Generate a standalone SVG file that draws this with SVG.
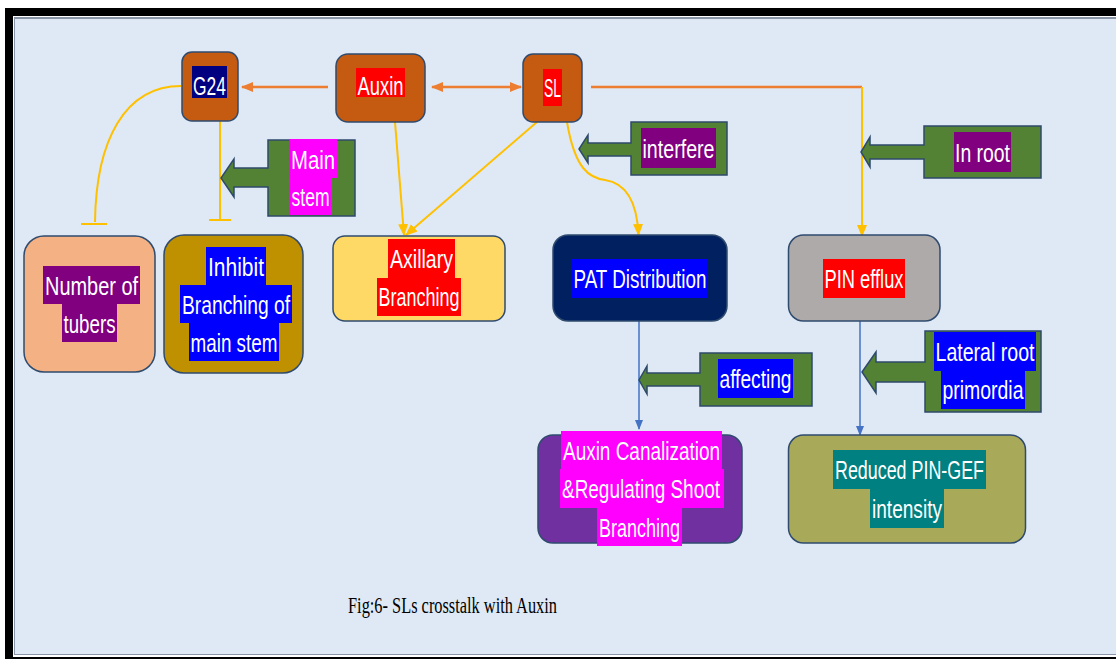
<svg xmlns="http://www.w3.org/2000/svg" width="1116" height="659" viewBox="0 0 1116 659">
<defs>
<style>
.node{stroke:#2f4b6e;stroke-width:1.5}
.call{fill:#548235;stroke:#2e4a6b;stroke-width:1.5}
.t{font-family:"Liberation Sans",Arial,sans-serif;font-size:26px;fill:#fff;text-anchor:middle}
.or{fill:none;stroke:#ed7d31;stroke-width:2.5}
.ye{fill:none;stroke:#ffc000;stroke-width:2}
.bl{fill:none;stroke:#4472c4;stroke-width:1.5}
</style>
<marker id="ao" markerUnits="userSpaceOnUse" markerWidth="12" markerHeight="12" viewBox="0 0 12 12" refX="11" refY="6" orient="auto-start-reverse"><path d="M0,1 L12,6 L0,11 Z" fill="#ed7d31"/></marker>
<marker id="ay" markerUnits="userSpaceOnUse" markerWidth="12" markerHeight="12" viewBox="0 0 12 12" refX="11" refY="6" orient="auto"><path d="M0,1 L12,6 L0,11 Z" fill="#ffc000"/></marker>
<marker id="ab" markerUnits="userSpaceOnUse" markerWidth="10" markerHeight="10" viewBox="0 0 10 10" refX="9" refY="5" orient="auto"><path d="M0,1 L10,5 L0,9 Z" fill="#4472c4"/></marker>
</defs>
<rect x="0" y="0" width="1116" height="659" fill="#fff"/>
<rect x="5" y="8" width="1111" height="651" fill="#000"/>
<rect x="13" y="16" width="1103" height="641" fill="#fff"/>
<rect x="14" y="17" width="1102" height="638" fill="#8a96a8"/>
<rect x="15" y="19" width="1101" height="635" fill="#dfe9f5"/>

<g id="connectors">
<line class="or" x1="328" y1="87" x2="242" y2="87" marker-end="url(#ao)"/>
<line class="or" x1="432" y1="87" x2="521" y2="87" marker-start="url(#ao)" marker-end="url(#ao)"/>
<polyline class="or" points="591,87 862,87"/>
<line class="ye" x1="862" y1="87" x2="862" y2="236" marker-end="url(#ay)"/>
<path class="ye" d="M181,86 C125,86 96,140 95,222"/>
<line class="ye" x1="81" y1="224" x2="107" y2="224" stroke-width="3"/>
<line class="ye" x1="220" y1="121" x2="220" y2="220"/>
<line class="ye" x1="209" y1="220" x2="231" y2="220" stroke-width="3"/>
<line class="ye" x1="395" y1="122" x2="404" y2="235" marker-end="url(#ay)"/>
<line class="ye" x1="537" y1="122" x2="406" y2="235" marker-end="url(#ay)"/>
<path class="ye" d="M567,122 C575,170 590,178 605,180 C625,183 637,200 638.5,235" marker-end="url(#ay)"/>
<line class="bl" x1="639" y1="321" x2="639" y2="429" marker-end="url(#ab)"/>
<line class="bl" x1="860" y1="321" x2="860" y2="435" marker-end="url(#ab)"/>
</g>

<g id="g24">
<rect class="node" x="182" y="52" width="56" height="69" rx="10" fill="#c55a11"/>
<rect x="192" y="66" width="35" height="32" fill="#000080"/>
<text class="t" x="209.5" y="95" font-size="28" textLength="33" lengthAdjust="spacingAndGlyphs">G24</text>
</g>
<g id="auxin">
<rect class="node" x="336" y="54" width="89" height="68" rx="12" fill="#c55a11"/>
<rect x="356" y="68" width="49" height="29" fill="#ff0000"/>
<text class="t" x="380.5" y="95" font-size="25" textLength="46" lengthAdjust="spacingAndGlyphs">Auxin</text>
</g>
<g id="sl">
<rect class="node" x="523" y="54" width="59" height="68" rx="10" fill="#c55a11"/>
<rect x="543" y="69" width="19" height="37" fill="#ff0000"/>
<text class="t" x="552.5" y="97" font-size="25" textLength="17" lengthAdjust="spacingAndGlyphs">SL</text>
</g>

<g id="main-stem">
<path class="call" d="M355,140 H268 V168 H234 V159 L221,178 L234,197 V187 H268 V216 H355 Z"/>
<rect x="289" y="139" width="48" height="39" fill="#ff00ff"/>
<rect x="290" y="178" width="41" height="37" fill="#ff00ff"/>
<text class="t" x="313" y="169" textLength="44" lengthAdjust="spacingAndGlyphs">Main</text>
<text class="t" x="310.5" y="206" textLength="38" lengthAdjust="spacingAndGlyphs">stem</text>
</g>
<g id="interfere">
<path class="call" d="M727,122 H631 V143 H588 V135 L579,149 L588,163 V156 H631 V175 H727 Z"/>
<rect x="641" y="128" width="75" height="40" fill="#800080"/>
<text class="t" x="678.5" y="158" textLength="72" lengthAdjust="spacingAndGlyphs">interfere</text>
</g>
<g id="in-root">
<path class="call" d="M1041,126 H924 V145 H870 V137 L861,152 L870,167 V159 H924 V178 H1041 Z"/>
<rect x="954" y="132" width="57" height="40" fill="#800080"/>
<text class="t" x="982.5" y="162" textLength="55" lengthAdjust="spacingAndGlyphs">In root</text>
</g>

<g id="tubers">
<rect class="node" x="24" y="236" width="131" height="136" rx="20" fill="#f4b183"/>
<rect x="43" y="266" width="97" height="38" fill="#800080"/>
<rect x="62" y="304" width="55" height="38" fill="#800080"/>
<text class="t" x="91.5" y="295" textLength="93" lengthAdjust="spacingAndGlyphs">Number of</text>
<text class="t" x="89.5" y="333" textLength="52" lengthAdjust="spacingAndGlyphs">tubers</text>
</g>
<g id="inhibit">
<rect class="node" x="164" y="235" width="139" height="138" rx="20" fill="#bf9000"/>
<rect x="206" y="247" width="60" height="38" fill="#0000ff"/>
<rect x="180" y="285" width="112" height="38" fill="#0000ff"/>
<rect x="189" y="323" width="90" height="38" fill="#0000ff"/>
<text class="t" x="236" y="276" textLength="56" lengthAdjust="spacingAndGlyphs">Inhibit</text>
<text class="t" x="236" y="314" textLength="108" lengthAdjust="spacingAndGlyphs">Branching of</text>
<text class="t" x="234" y="352" textLength="87" lengthAdjust="spacingAndGlyphs">main stem</text>
</g>
<g id="axillary">
<rect class="node" x="333" y="236" width="172" height="85" rx="12" fill="#ffd966"/>
<rect x="388" y="239" width="67" height="39" fill="#ff0000"/>
<rect x="377" y="278" width="84" height="38" fill="#ff0000"/>
<text class="t" x="421.5" y="268" textLength="63" lengthAdjust="spacingAndGlyphs">Axillary</text>
<text class="t" x="419" y="306" textLength="81" lengthAdjust="spacingAndGlyphs">Branching</text>
</g>
<g id="pat">
<rect class="node" x="553" y="235" width="174" height="86" rx="15" fill="#002060"/>
<rect x="572" y="259" width="136" height="39" fill="#0000ff"/>
<text class="t" x="640" y="288" textLength="133" lengthAdjust="spacingAndGlyphs">PAT Distribution</text>
</g>
<g id="pin">
<rect class="node" x="788.5" y="235" width="151.5" height="86" rx="15" fill="#aeaaaa"/>
<rect x="823" y="259" width="82" height="39" fill="#ff0000"/>
<text class="t" x="864" y="288" textLength="79" lengthAdjust="spacingAndGlyphs">PIN efflux</text>
</g>
<g id="affecting">
<path class="call" d="M812,353 H700 V373 H647 V366 L639,380 L647,394 V386 H700 V406 H812 Z"/>
<rect x="718" y="359" width="75" height="39" fill="#0000ff"/>
<text class="t" x="755.5" y="388" textLength="72" lengthAdjust="spacingAndGlyphs">affecting</text>
</g>
<g id="lateral-root">
<path class="call" d="M1041,331 H925 V362 H876 V352 L862,372 L876,393 V382 H925 V412 H1041 Z"/>
<rect x="934" y="332" width="102" height="39" fill="#0000ff"/>
<rect x="941" y="371" width="84" height="38" fill="#0000ff"/>
<text class="t" x="985" y="361" textLength="99" lengthAdjust="spacingAndGlyphs">Lateral root</text>
<text class="t" x="983" y="399" textLength="81" lengthAdjust="spacingAndGlyphs">primordia</text>
</g>
<g id="canalization">
<rect class="node" x="538" y="435" width="204" height="108" rx="15" fill="#7030a0"/>
<rect x="561" y="431" width="161" height="38" fill="#ff00ff"/>
<rect x="560" y="469" width="164" height="39" fill="#ff00ff"/>
<rect x="597" y="508" width="85" height="38" fill="#ff00ff"/>
<text class="t" x="641.5" y="460" textLength="157" lengthAdjust="spacingAndGlyphs">Auxin Canalization</text>
<text class="t" x="641" y="498" textLength="158" lengthAdjust="spacingAndGlyphs">&amp;Regulating Shoot</text>
<text class="t" x="639.5" y="537" textLength="81" lengthAdjust="spacingAndGlyphs">Branching</text>
</g>
<g id="pin-gef">
<rect class="node" x="788.5" y="435" width="237" height="108" rx="15" fill="#a9a95a"/>
<rect x="833" y="450" width="153" height="39" fill="#008080"/>
<rect x="870" y="489" width="74" height="39" fill="#008080"/>
<text class="t" x="909.5" y="479" textLength="149" lengthAdjust="spacingAndGlyphs">Reduced PIN-GEF</text>
<text class="t" x="907" y="518" textLength="70" lengthAdjust="spacingAndGlyphs">intensity</text>
</g>

<text x="348" y="613" font-family="'Liberation Serif','Times New Roman',serif" font-size="23" fill="#000" textLength="209" lengthAdjust="spacingAndGlyphs">Fig:6- SLs crosstalk with Auxin</text>
</svg>
